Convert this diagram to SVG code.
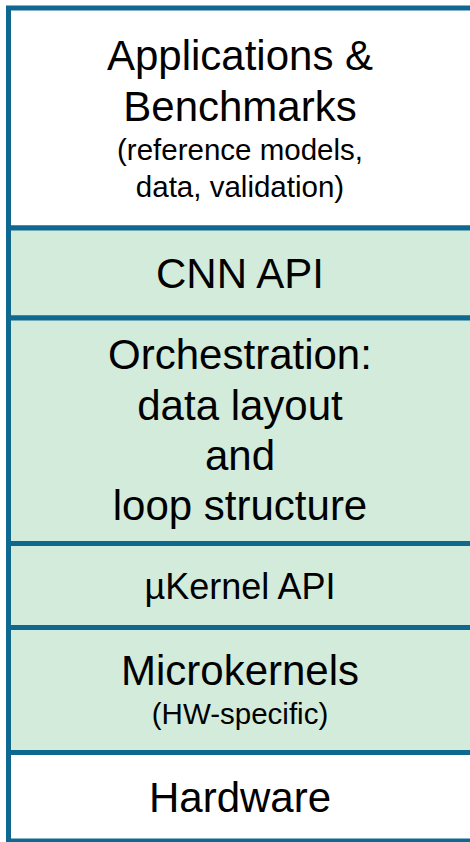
<svg xmlns="http://www.w3.org/2000/svg" width="470" height="842" viewBox="0 0 470 842">
<style>
.box{stroke:#0E6890;stroke-width:5}
.w{fill:#FFFFFF}
.g{fill:#D3EBDB}
text{font-family:"Liberation Sans",Arial,sans-serif;fill:#000;text-anchor:middle}
.big{font-size:42px}
.mid{font-size:36px}
.sm{font-size:29.5px}
</style>
<rect x="0" y="0" width="470" height="842" fill="#FFFFFF"/>
<g id="applications">
<rect class="box w" x="8.5" y="8" width="470" height="220"/>
<text class="big" x="240" y="70">Applications &amp;</text>
<text class="big" x="240" y="121">Benchmarks</text>
<text class="sm" x="240" y="160">(reference models,</text>
<text class="sm" x="240" y="197">data, validation)</text>
</g>
<g id="cnn-api">
<rect class="box g" x="8.5" y="228" width="470" height="90"/>
<text class="big" x="240" y="288">CNN API</text>
</g>
<g id="orchestration">
<rect class="box g" x="8.5" y="318" width="470" height="225.5"/>
<text class="big" x="240" y="369">Orchestration:</text>
<text class="big" x="240" y="420">data layout</text>
<text class="big" x="240" y="470">and</text>
<text class="big" x="240" y="520">loop structure</text>
</g>
<g id="ukernel-api">
<rect class="box g" x="8.5" y="543.5" width="470" height="84"/>
<text class="mid" x="240" y="599">µKernel API</text>
</g>
<g id="microkernels">
<rect class="box g" x="8.5" y="627.5" width="470" height="125"/>
<text class="big" x="240" y="685">Microkernels</text>
<text class="sm" x="240" y="724">(HW-specific)</text>
</g>
<g id="hardware">
<rect class="box w" x="8.5" y="752.5" width="470" height="88.5"/>
<text class="big" x="240" y="812">Hardware</text>
</g>
<g id="connectors"></g>
</svg>
